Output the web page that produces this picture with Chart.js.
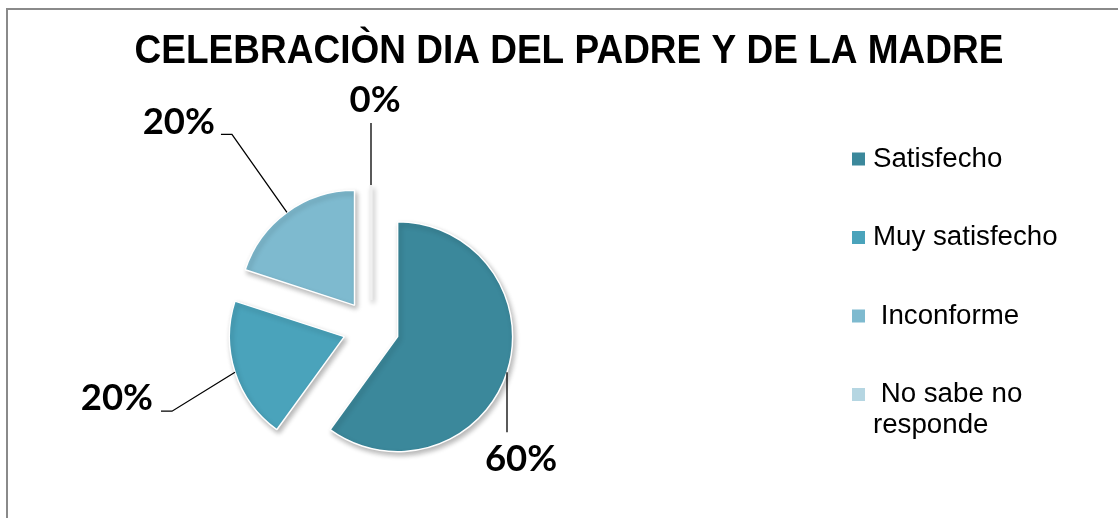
<!DOCTYPE html>
<html>
<head>
<meta charset="utf-8">
<script src="https://cdn.jsdelivr.net/npm/chart.js@4.4.0/dist/chart.umd.min.js"></script>
<style>
  html, body { margin: 0; padding: 0; background: #fff; }
</style>
</head>
<body>
<canvas id="myChart" width="1118" height="518"></canvas>
<script>
const title = 'CELEBRACIÒN DIA DEL PADRE Y DE LA MADRE';
const labels = ['Satisfecho', 'Muy satisfecho', ' Inconforme', ' No sabe no responde'];
const values = [60, 20, 20, 0];
const colors = ['#3b889b', '#4aa3bb', '#7ebacf', '#b5d6e2'];

// how far each slice is pulled out from the middle
const EXPLODE = 28;

// leader line points and text spot, relative to the slice's outer mid point
const callouts = [
    { path: [[0, 0], [0, 60]], text: [14, 87], align: 'center' },
    { path: [[0, 0], [-63, 39], [-74, 39]], text: [-82, 26], align: 'right' },
    { path: [[0, 0], [-55, -78], [-66, -78]], text: [-72, -90], align: 'right' },
    { path: [[0, 0], [0, -62]], text: [4, -85], align: 'center' }
];

const legendBox = { x: 852, y: 159, step: 78.5, size: 13, gap: 8, maxWidth: 195, lineHeight: 31 };

function pullOut(arc) {
    const mid = (arc.startAngle + arc.endAngle) / 2;
    return { dx: Math.cos(mid) * EXPLODE, dy: Math.sin(mid) * EXPLODE, mid: mid };
}

function wrapText(ctx, text, maxW) {
    const words = text.split(' ');
    const lines = [];
    let line = '';
    words.forEach((w, k) => {
        const test = k === 0 ? w : line + ' ' + w;
        if (line.trim() && ctx.measureText(test).width > maxW) {
            lines.push(line);
            line = w;
        } else {
            line = test;
        }
    });
    lines.push(line);
    return lines;
}

const explodedPie = {
    id: 'explodedPie',
    beforeDraw(chart) {
        const ctx = chart.ctx;
        ctx.save();
        ctx.fillStyle = '#fff';
        ctx.fillRect(0, 0, chart.width, chart.height);
        ctx.strokeStyle = '#8a8a8a';
        ctx.lineWidth = 2;
        ctx.beginPath();
        ctx.moveTo(7, chart.height + 5);
        ctx.lineTo(7, 9);
        ctx.lineTo(chart.width + 5, 9);
        ctx.stroke();

        // title, a bit taller than the plain font
        ctx.fillStyle = '#000';
        ctx.font = 'bold 37px "Liberation Sans", Arial, sans-serif';
        ctx.textAlign = 'center';
        ctx.textBaseline = 'middle';
        ctx.translate(569, 52);
        ctx.scale(1, 1.1);
        ctx.fillText(title, 0, 0);
        ctx.restore();
    },
    beforeDatasetDraw(chart, args) {
        const ctx = chart.ctx;
        args.meta.data.forEach((arc) => {
            const s = pullOut(arc);
            ctx.save();
            ctx.translate(s.dx, s.dy);
            ctx.shadowColor = 'rgba(0, 0, 0, 0.28)';
            ctx.shadowBlur = 5;
            ctx.shadowOffsetX = 2;
            ctx.shadowOffsetY = 3;
            if (arc.circumference > 0) {
                arc.draw(ctx);
            } else {
                // empty slice, only its edge is left
                ctx.strokeStyle = '#f0f0f0';
                ctx.lineWidth = 3;
                ctx.beginPath();
                ctx.moveTo(arc.x, arc.y);
                ctx.lineTo(arc.x + Math.cos(arc.startAngle) * arc.outerRadius,
                           arc.y + Math.sin(arc.startAngle) * arc.outerRadius);
                ctx.stroke();
            }
            ctx.restore();
        });
        return false;
    },
    afterDatasetsDraw(chart) {
        const ctx = chart.ctx;
        const meta = chart.getDatasetMeta(0);
        ctx.save();
        meta.data.forEach((arc, i) => {
            const s = pullOut(arc);
            const ax = arc.x + s.dx + Math.cos(s.mid) * arc.outerRadius;
            const ay = arc.y + s.dy + Math.sin(s.mid) * arc.outerRadius;
            const c = callouts[i];
            ctx.strokeStyle = '#000';
            ctx.lineWidth = 1.3;
            ctx.beginPath();
            c.path.forEach((p, k) => {
                if (k === 0) ctx.moveTo(ax + p[0], ay + p[1]);
                else ctx.lineTo(ax + p[0], ay + p[1]);
            });
            ctx.stroke();
            ctx.fillStyle = '#000';
            ctx.font = 'bold 36.5px Lato, "Open Sans", sans-serif';
            ctx.textAlign = c.align;
            ctx.textBaseline = 'middle';
            ctx.fillText(values[i] + '%', ax + c.text[0], ay + c.text[1]);
        });

        // legend
        ctx.font = '27.7px "Liberation Sans", Arial, sans-serif';
        ctx.textAlign = 'left';
        ctx.textBaseline = 'middle';
        chart.data.labels.forEach((lab, i) => {
            const y = legendBox.y + i * legendBox.step;
            ctx.fillStyle = chart.data.datasets[0].backgroundColor[i];
            ctx.fillRect(legendBox.x, y - legendBox.size / 2, legendBox.size, legendBox.size);
            ctx.fillStyle = '#000';
            const tx = legendBox.x + legendBox.size + legendBox.gap;
            wrapText(ctx, lab, legendBox.maxWidth).forEach((ln, k) => {
                ctx.fillText(ln, tx, y + k * legendBox.lineHeight);
            });
        });
        ctx.restore();
    }
};

const ctx = document.getElementById('myChart').getContext('2d');
const myChart = new Chart(ctx, {
    type: 'pie',
    data: {
        labels: labels,
        datasets: [{
            data: values,
            backgroundColor: colors,
            borderColor: '#ffffff',
            borderWidth: 1.5
        }]
    },
    options: {
        responsive: false,
        animation: false,
        radius: 115,
        layout: {
            padding: { left: 20, right: 396, top: 158, bottom: 20 }
        },
        plugins: {
            legend: { display: false },
            tooltip: { enabled: false }
        }
    },
    plugins: [explodedPie]
});
</script>
</body>
</html>
